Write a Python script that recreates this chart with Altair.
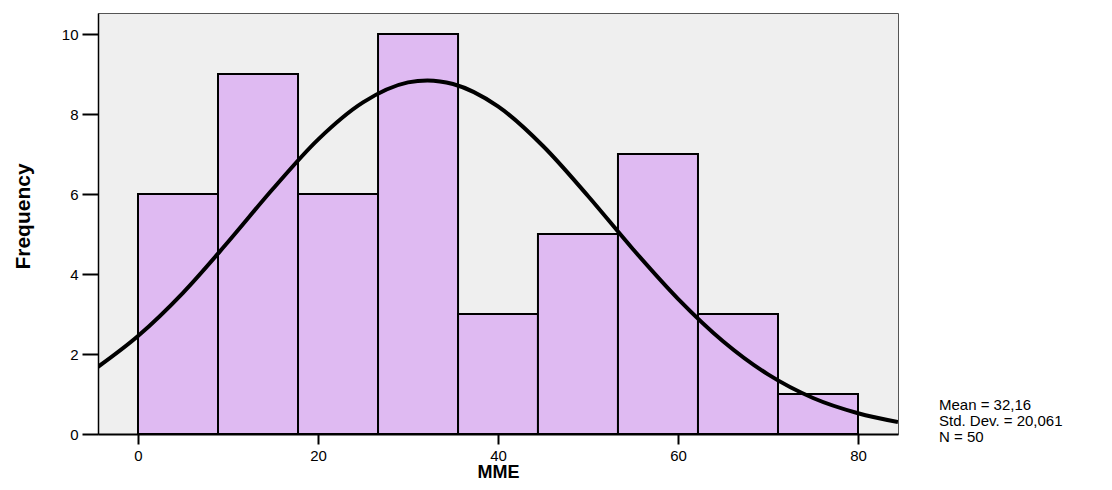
import altair as alt
import pandas as pd

# Histogram bins (MME) and frequencies
bin_start = [0.0, 8.89, 17.78, 26.67, 35.56, 44.44, 53.33, 62.22, 71.11]
bin_end = [8.89, 17.78, 26.67, 35.56, 44.44, 53.33, 62.22, 71.11, 80.0]
counts = [6, 9, 6, 10, 3, 5, 7, 3, 1]

# Fitted normal curve
curve_x = [-4.44, 0, 5, 10, 15, 20, 25, 30, 32.16, 35, 40, 45, 50, 55, 60, 65, 70, 75, 80, 84.44]
curve_y = [1.68, 2.45, 3.53, 4.80, 6.13, 7.36, 8.29, 8.79, 8.84, 8.75, 8.19, 7.20, 5.95, 4.62, 3.38, 2.32, 1.49, 0.90, 0.52, 0.30]

stats_lines = ["Mean = 32,16", "Std. Dev. = 20,061", "N = 50"]

x_ticks = [0, 20, 40, 60, 80]
y_ticks = [0, 2, 4, 6, 8, 10]

FONT = "Liberation Sans"

bars_df = pd.DataFrame({"x": bin_start, "x2": bin_end, "y": counts})
curve_df = pd.DataFrame({"x": curve_x, "y": curve_y})
stats_df = pd.DataFrame({"k": [0]})

xscale = alt.Scale(domain=[-4.444, 84.444], nice=False, zero=False)
yscale = alt.Scale(domain=[0, 10.525], nice=False)

bars = alt.Chart(bars_df).mark_rect(
    fill="#DFBAF2", stroke="black", strokeWidth=2
).encode(
    x=alt.X("x:Q", scale=xscale, axis=alt.Axis(
        values=x_ticks, title="MME", grid=False,
        tickSize=10, tickWidth=2, tickColor="black",
        domainColor="black", domainWidth=2,
        labelFont=FONT, labelFontSize=15, labelColor="black", labelPadding=4,
        titleFont=FONT, titleFontSize=18, titleFontWeight="bold", titleColor="black",
        titleY=43, titleBaseline="alphabetic")),
    x2="x2:Q",
    y=alt.Y("y:Q", scale=yscale, axis=alt.Axis(
        values=y_ticks, title="Frequency", grid=False,
        tickSize=16, tickWidth=2, tickColor="black",
        domainColor="black", domainWidth=1.5,
        labelFont=FONT, labelFontSize=15, labelColor="black", labelPadding=4,
        titleFont=FONT, titleFontSize=21, titleFontWeight="bold", titleColor="black",
        titleAngle=270, titleX=-75, titleY=203, titleAlign="center", titleBaseline="middle")),
    y2=alt.datum(0),
)

curve = alt.Chart(curve_df).mark_line(
    color="black", strokeWidth=4, interpolate="monotone", clip=True
).encode(
    x=alt.X("x:Q", scale=xscale),
    y=alt.Y("y:Q", scale=yscale),
)

stats = alt.Chart(stats_df).mark_text(
    align="left", baseline="middle", font=FONT, fontSize=15, color="black",
    text=stats_lines, lineHeight=16
).encode(
    x=alt.value(841),
    y=alt.value(392),
)

chart = alt.layer(bars, curve, stats).properties(
    width=800,
    height=421,
    autosize=alt.AutoSizeParams(type="none"),
    padding={"left": 90, "top": 5, "right": 206, "bottom": 48},
    background="white",
).configure_view(
    fill="#EFEFEF", stroke="#555555", strokeWidth=1
)

chart.save("out.html", embed_options={"renderer": "svg", "actions": False})
